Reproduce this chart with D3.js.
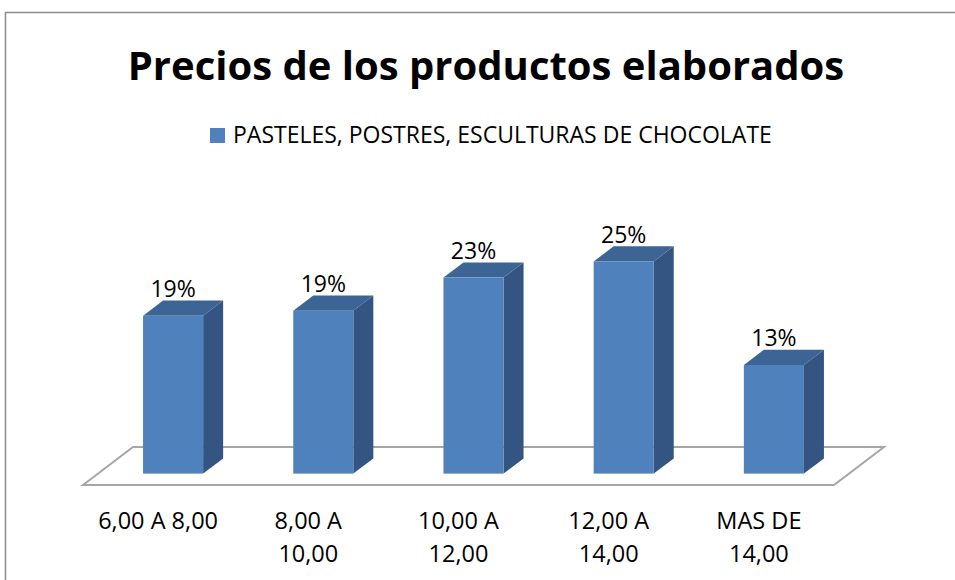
<!DOCTYPE html>
<html lang="es">
  <head>
    <meta charset="UTF-8" />
    <title>Precios de los productos elaborados</title>
    <script src="https://d3js.org/d3.v7.min.js"></script>
    <style>
      body { margin: 0; background: #fff; }
      text { font-family: "Open Sans", "Noto Sans", sans-serif; fill: #000; }
    </style>
  </head>
  <body>
    <svg width="955" height="580" id="chart"></svg>

    <script>
      // Data
      const categories = ["6,00 A 8,00", "8,00 A 10,00", "10,00 A 12,00", "12,00 A 14,00", "MAS DE 14,00"];
      const values = [0.186, 0.192, 0.231, 0.25, 0.128];
      const seriesName = "PASTELES, POSTRES, ESCULTURAS DE CHOCOLATE";
      const title = "Precios de los productos elaborados";

      const svg = d3.select("#chart");

      // chart frame
      svg.append("rect")
        .attr("x", 5.5).attr("y", 12.5)
        .attr("width", 1000).attr("height", 700)
        .attr("fill", "none")
        .attr("stroke", "#8c8c8c")
        .attr("stroke-width", 1.5);

      // title
      svg.append("text")
        .attr("x", 486).attr("y", 80)
        .attr("text-anchor", "middle")
        .attr("font-size", 40)
        .attr("font-weight", "bold")
        .text(title);

      // legend
      const legend = svg.append("g").attr("transform", "translate(210,128)");
      legend.append("rect").attr("width", 15).attr("height", 15).attr("fill", "#4F81BD");
      legend.append("text").attr("x", 23).attr("y", 15).attr("font-size", 23).text(seriesName);

      // floor geometry (oblique 3D)
      const floorY = 485;
      const DX = 50, DY = 38; // depth offset of the floor
      const x = d3.scaleBand()
        .domain(categories)
        .range([83, 834])
        .paddingInner(0.6)
        .paddingOuter(0.3);

      const f0 = 0.3, f1 = 0.7; // bar depth position within the floor
      const base = floorY - f0 * DY;
      const y = d3.scaleLinear().domain([0, 0.25]).range([base, 261.5]);

      // floor
      const floorPts = [[83, floorY], [83 + DX, floorY - DY], [834 + DX, floorY - DY], [834, floorY]];
      svg.append("polygon")
        .attr("points", floorPts.map(p => p.join(",")).join(" "))
        .attr("fill", "#fff")
        .attr("stroke", "#a6a6a6")
        .attr("stroke-width", 2);

      const ddx = (f1 - f0) * DX, ddy = (f1 - f0) * DY;
      const w = x.bandwidth();

      const bars = svg.append("g")
        .selectAll("g")
        .data(categories.map((c, i) => ({ c, v: values[i] })))
        .join("g");

      // side face
      bars.append("polygon")
        .attr("points", d => {
          const bx = x(d.c) + f0 * DX + w, t = y(d.v);
          return [[bx, t], [bx + ddx, t - ddy], [bx + ddx, base - ddy], [bx, base]].map(p => p.join(",")).join(" ");
        })
        .attr("fill", "#345482");

      // top face
      bars.append("polygon")
        .attr("points", d => {
          const bx = x(d.c) + f0 * DX, t = y(d.v);
          return [[bx, t], [bx + ddx, t - ddy], [bx + w + ddx, t - ddy], [bx + w, t]].map(p => p.join(",")).join(" ");
        })
        .attr("fill", "#3C6595");

      // front face
      bars.append("rect")
        .attr("x", d => x(d.c) + f0 * DX)
        .attr("y", d => y(d.v))
        .attr("width", w)
        .attr("height", d => base - y(d.v))
        .attr("fill", "#4F81BD");

      // data labels
      bars.append("text")
        .attr("x", d => x(d.c) + f0 * DX + w / 2)
        .attr("y", d => y(d.v) - 19)
        .attr("text-anchor", "middle")
        .attr("font-size", 23)
        .text(d => d3.format(".0%")(d.v));

      // category labels (wrapped)
      const labels = svg.append("g")
        .selectAll("text")
        .data(categories)
        .join("text")
        .attr("x", d => x(d) + w / 2)
        .attr("y", 529)
        .attr("text-anchor", "middle")
        .attr("font-size", 23.5);

      labels.each(function (d) {
        const t = d3.select(this);
        const cx = x(d) + w / 2;
        t.text(d);
        if (this.getComputedTextLength() > 125) {
          const words = d.split(" ");
          const first = words.slice(0, 2).join(" ");
          const rest = words.slice(2).join(" ");
          t.text(null);
          t.append("tspan").attr("x", cx).attr("y", 529).text(first);
          t.append("tspan").attr("x", cx).attr("y", 562).text(rest);
        }
      });
    </script>
  </body>
</html>
